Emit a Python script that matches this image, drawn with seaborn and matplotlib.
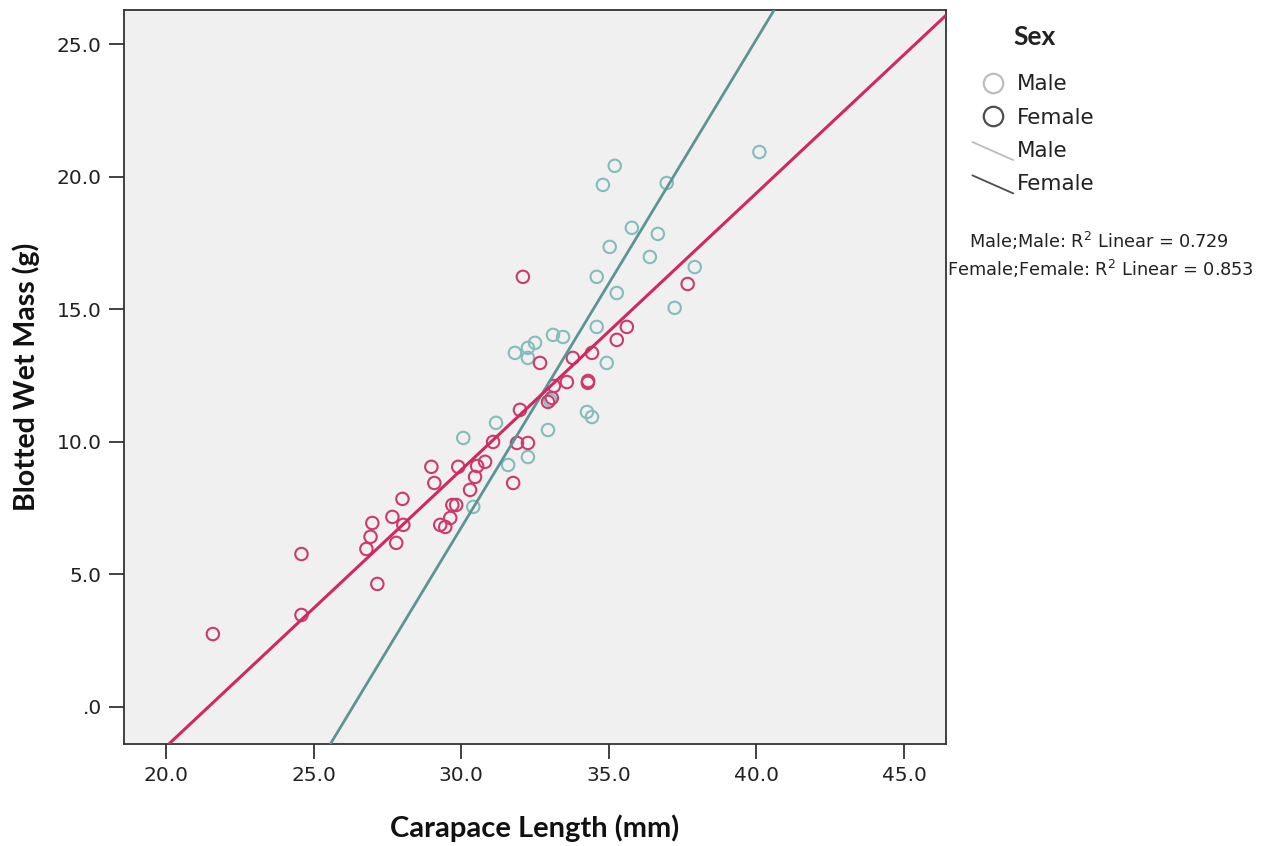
import numpy as np
import pandas as pd
import matplotlib
matplotlib.use("Agg")
import matplotlib.pyplot as plt
import seaborn as sns
from matplotlib.lines import Line2D
from matplotlib.legend_handler import HandlerBase

# ---------------- data ----------------
male_length = [30.07, 31.18, 31.59, 30.41, 32.26, 32.94, 33.01, 34.26, 34.43,
               31.82, 32.26, 32.50, 32.26, 33.11, 33.45, 34.59, 34.93, 34.59,
               35.27, 37.23, 37.91, 36.66, 35.78, 36.39, 35.03, 35.20, 34.80,
               36.96, 40.10]
male_mass = [10.15, 10.72, 9.13, 7.55, 9.43, 10.45, 11.58, 11.13, 10.94,
             13.36, 13.55, 13.74, 13.17, 14.04, 13.96, 14.34, 12.98, 16.23,
             15.62, 15.06, 16.60, 17.85, 18.08, 16.98, 17.36, 20.42, 19.70,
             19.77, 20.94]

female_length = [21.59, 24.59, 24.59, 27.16, 26.79, 26.93, 26.99, 27.67, 27.80,
                 28.01, 28.04, 28.99, 29.09, 29.29, 29.46, 29.63, 29.70, 29.83,
                 29.90, 30.30, 30.47, 30.54, 30.81, 31.08, 31.76, 31.89, 32.26,
                 31.99, 32.09, 32.67, 32.94, 33.07, 33.14, 33.58, 33.78, 34.29,
                 34.30, 34.43, 35.27, 35.61, 37.67]
female_mass = [2.75, 3.47, 5.77, 4.64, 5.96, 6.42, 6.94, 7.17, 6.19,
               7.85, 6.87, 9.06, 8.45, 6.87, 6.79, 7.13, 7.62, 7.62,
               9.06, 8.19, 8.68, 9.09, 9.25, 10.00, 8.45, 9.96, 9.96,
               11.21, 16.23, 12.98, 11.51, 11.66, 12.11, 12.26, 13.17, 12.23,
               12.30, 13.36, 13.85, 14.34, 15.96]

# fit lines (end points read where each line meets the plot frame)
male_fit_x = [25.57, 40.60]
male_fit_y = [-1.40, 26.30]
female_fit_x = [20.10, 46.42]
female_fit_y = [-1.40, 26.10]

x_ticks = [20, 25, 30, 35, 40, 45]
x_tick_labels = ["20.0", "25.0", "30.0", "35.0", "40.0", "45.0"]
y_ticks = [0, 5, 10, 15, 20, 25]
y_tick_labels = [".0", "5.0", "10.0", "15.0", "20.0", "25.0"]

legend_title = "Sex"
legend_labels = ["Male", "Female", "Male", "Female"]
r2_labels = ["Male;Male: R$^2$ Linear = 0.729",
             "Female;Female: R$^2$ Linear = 0.853"]

# ---------------- styling ----------------
sns.set_theme(style="white")
plt.rcParams["font.family"] = ["DejaVu Sans"]

MALE_PT = "#84bcbc"
MALE_LN = "#5c9494"
FEM_PT = "#cc3a6c"
FEM_LN = "#d0285f"

df = pd.DataFrame({
    "Carapace Length (mm)": male_length + female_length,
    "Blotted Wet Mass (g)": male_mass + female_mass,
    "Sex": ["Male"] * len(male_length) + ["Female"] * len(female_length),
})

fig = plt.figure(figsize=(12.64, 8.46), dpi=100)
ax = fig.add_axes([124 / 1264, (846 - 744) / 846, 822 / 1264, 734 / 846])
ax.set_facecolor("#f0f0f0")

for sex, col in [("Male", MALE_PT), ("Female", FEM_PT)]:
    sub = df[df["Sex"] == sex]
    sns.scatterplot(data=sub, x="Carapace Length (mm)", y="Blotted Wet Mass (g)",
                    color=col, facecolor="none", edgecolor=col, linewidth=1.5,
                    s=80, ax=ax, legend=False, zorder=3)

sns.lineplot(x=male_fit_x, y=male_fit_y, color=MALE_LN, lw=2.0, ax=ax, zorder=4)
sns.lineplot(x=female_fit_x, y=female_fit_y, color=FEM_LN, lw=2.2, ax=ax, zorder=4)

ax.set_xlim(18.58, 46.42)
ax.set_ylim(-1.40, 26.30)
ax.set_xticks(x_ticks)
ax.set_xticklabels(x_tick_labels)
ax.set_yticks(y_ticks)
ax.set_yticklabels(y_tick_labels)
ax.tick_params(axis="both", direction="out", length=11, width=1.3, color="#333333",
               labelsize=14.5, labelcolor="#222222", pad=5,
               bottom=True, left=True)
for sp in ax.spines.values():
    sp.set_color("#333333")
    sp.set_linewidth(1.3)

ax.set_xlabel("Carapace Length (mm)", fontsize=21, fontweight="bold",
              family=["Lato", "DejaVu Sans"], color="#111111", labelpad=21)
ax.set_ylabel("Blotted Wet Mass (g)", fontsize=20.5, fontweight="bold",
              family=["Lato", "DejaVu Sans"], color="#111111", labelpad=12)


class HandlerDiag(HandlerBase):
    def create_artists(self, legend, orig_handle, xdescent, ydescent,
                       width, height, fontsize, trans):
        ln = Line2D([-xdescent, -xdescent + width],
                    [-ydescent + height * 1.0, -ydescent - height * 0.2],
                    color=orig_handle.get_color(),
                    lw=orig_handle.get_linewidth())
        ln.set_transform(trans)
        return [ln]


h_m_pt = Line2D([], [], marker="o", ls="none", mfc="none", mec="#bdbdbd", ms=14, mew=1.6)
h_f_pt = Line2D([], [], marker="o", ls="none", mfc="none", mec="#4d4d4d", ms=14, mew=1.6)
h_m_ln = Line2D([], [], color="#bdbdbd", lw=1.3)
h_f_ln = Line2D([], [], color="#4d4d4d", lw=1.3)

fig.text(1035 / 1264, 1 - 37 / 846, legend_title, ha="center", va="center",
         fontsize=19, fontweight="bold", family=["Lato", "DejaVu Sans"],
         color="#222222")

leg = fig.legend([h_m_pt, h_f_pt, h_m_ln, h_f_ln], legend_labels,
                 loc="upper left",
                 bbox_to_anchor=(953 / 1264, 1 - 55 / 846),
                 frameon=False, fontsize=15.5, handlelength=1.9,
                 handletextpad=0.15, labelspacing=0.62,
                 handler_map={h_m_ln: HandlerDiag(), h_f_ln: HandlerDiag()})
for t in leg.get_texts():
    t.set_color("#222222")

fig.text(1099 / 1264, 1 - 241 / 846, r2_labels[0], ha="center", va="center",
         fontsize=12.8, color="#222222")
fig.text(1100 / 1264, 1 - 269 / 846, r2_labels[1], ha="center", va="center",
         fontsize=12.8, color="#222222")

fig.savefig("out.png", dpi=100)
